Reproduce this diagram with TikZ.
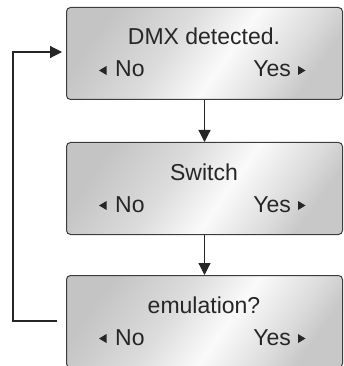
\documentclass[tikz,border=0pt]{standalone}
\usepackage{fontspec}
\setmainfont{Liberation Sans}
\usetikzlibrary{arrows.meta}
\definecolor{boxedge}{RGB}{60,60,60}
\definecolor{shA}{RGB}{196,196,196}
\definecolor{shB}{RGB}{220,220,220}
\definecolor{shC}{RGB}{250,250,250}
\definecolor{shD}{RGB}{200,200,200}
\pgfdeclarehorizontalshading{shiny}{100bp}{color(0bp)=(shA); color(25bp)=(shA); color(42bp)=(shB); color(55bp)=(shC); color(68bp)=(shB); color(75bp)=(shD); color(100bp)=(shD)}
\tikzset{
  lcdbox/.style={draw=boxedge, line width=1pt, rounded corners=4pt, shading=shiny, shading angle=-35, minimum width=276pt, minimum height=92pt, inner sep=0pt, anchor=north west},
  lcdtext/.style={font=\fontsize{23}{23}\selectfont, text=black!85, inner sep=0pt},
  conn/.style={draw=black!85, line width=1.2pt, -{Triangle[length=12pt,width=12pt]}},
  tri/.style={fill=black!85}
}
\begin{document}
\begin{tikzpicture}[x=1pt,y=-1pt]
\useasboundingbox (0,0) rectangle (343,366);
\clip (0,0) rectangle (343,366);
% boxes
\node[lcdbox] (b1) at (66,7) {};
\node[lcdbox] (b2) at (66,142) {};
\node[lcdbox] (b3) at (66,275) {};
% texts
\foreach \n/\t/\dy in {b1/{DMX detected.}/0, b2/{Switch}/135, b3/{emulation?}/268}{
  \node[lcdtext, anchor=base] (\n title) at (204,45+\dy) {\t};
  \node[lcdtext, anchor=base west] (\n no) at (115,77+\dy) {No};
  \node[lcdtext, anchor=base east] (\n yes) at (291,77+\dy) {Yes};
  \fill[tri] (99,70.5+\dy) -- (106.5,66+\dy) -- (106.5,75+\dy) -- cycle;
  \fill[tri] (305.5,70.5+\dy) -- (298,66+\dy) -- (298,75+\dy) -- cycle;
}
% connectors
\draw[conn] (b1.south) -- (b2.north);
\draw[conn] (b2.south) -- (b3.north);
\coordinate (loopstart) at (57,321);
\draw[conn, shorten >=4pt] (loopstart) -- (13,321) -- (13,52) -- (b1.west |- 0,52);
\end{tikzpicture}
\end{document}
